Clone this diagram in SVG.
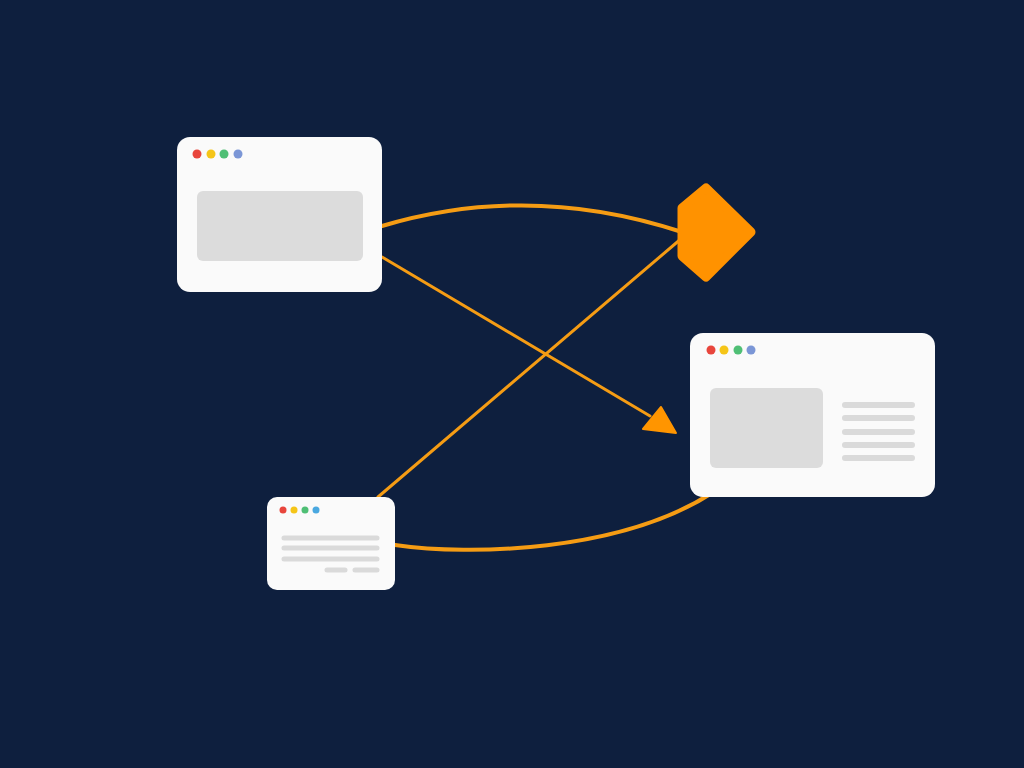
<svg xmlns="http://www.w3.org/2000/svg" width="1024" height="768" viewBox="0 0 1024 768">
<defs>
<style>
.win{fill:#fafafa}
.ph{fill:#dcdcdc}
.ln{stroke:#dadada;stroke-linecap:round;fill:none}
.con{fill:none;stroke:#f59c14;stroke-linecap:round}
</style>
<marker id="arr" viewBox="0 0 10 10" refX="9" refY="5" markerWidth="10" markerHeight="10" markerUnits="userSpaceOnUse" orient="auto">
<path d="M0,0 L10,5 L0,10 z" fill="#ff9500"/>
</marker>
</defs>
<rect width="1024" height="768" fill="#0e1f3e"/>
<g id="connectors">
<path class="con" stroke-width="4" d="M382,226 Q530,182 682,232"/>
<path class="con" stroke-width="3" d="M382,257 L650,416"/>
<path d="M676,433 L643,429 L661,407 Z" fill="#ff9500" stroke="#ff9500" stroke-width="2" stroke-linejoin="round"/>
<path class="con" stroke-width="3" d="M378,497 L682,238"/>
<path class="con" stroke-width="4" d="M395,545 C470,556 620,552 712,493"/>
</g>
<g id="diamond">
<path d="M682,208 L706,188 L751,232 L706,277 L682,256 Z" fill="#ff9200" stroke="#ff9200" stroke-width="9" stroke-linejoin="round"/>
</g>
<g id="window-1">
<rect class="win" x="177" y="137" width="205" height="155" rx="13"/>
<circle cx="197" cy="154" r="4.5" fill="#e8453c"/>
<circle cx="211" cy="154" r="4.5" fill="#f5c518"/>
<circle cx="224" cy="154" r="4.5" fill="#4fbf75"/>
<circle cx="238" cy="154" r="4.5" fill="#7b96d6"/>
<rect class="ph" x="197" y="191" width="166" height="70" rx="6"/>
</g>
<g id="window-2">
<rect class="win" x="690" y="333" width="245" height="164" rx="13"/>
<circle cx="711" cy="350" r="4.5" fill="#e8453c"/>
<circle cx="724" cy="350" r="4.5" fill="#f5c518"/>
<circle cx="738" cy="350" r="4.5" fill="#4fbf75"/>
<circle cx="751" cy="350" r="4.5" fill="#7b96d6"/>
<rect class="ph" x="710" y="388" width="113" height="80" rx="6"/>
<g class="ln" stroke-width="6">
<path d="M845,405 H912 M845,418 H912 M845,432 H912 M845,445 H912 M845,458 H912"/>
</g>
</g>
<g id="window-3">
<rect class="win" x="267" y="497" width="128" height="93" rx="10"/>
<circle cx="283" cy="510" r="3.5" fill="#e8453c"/>
<circle cx="294" cy="510" r="3.5" fill="#f5c518"/>
<circle cx="305" cy="510" r="3.5" fill="#4fbf75"/>
<circle cx="316" cy="510" r="3.5" fill="#4aa8e0"/>
<g class="ln" stroke-width="5">
<path d="M284,538 H377 M284,548 H377 M284,559 H377 M327,570 H345 M355,570 H377"/>
</g>
</g>
</svg>
